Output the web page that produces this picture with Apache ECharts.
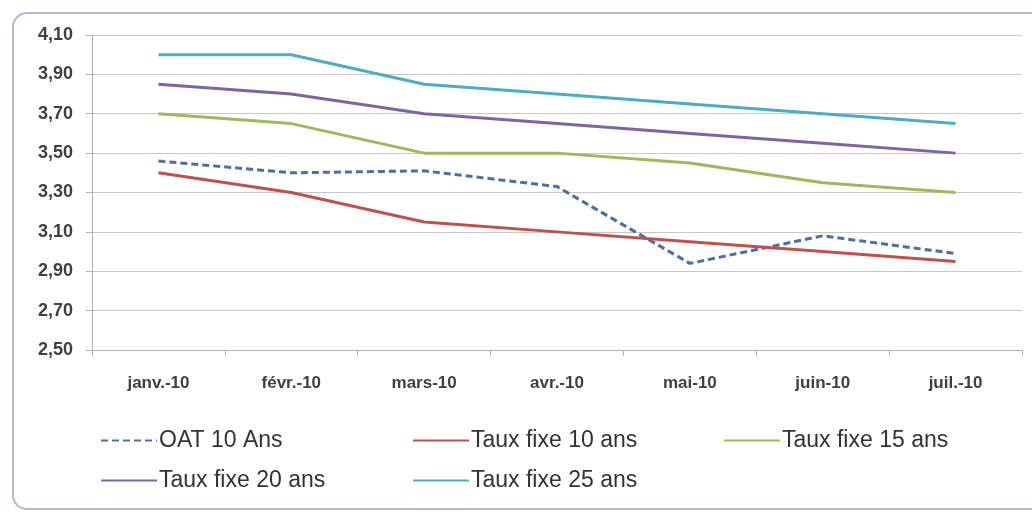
<!DOCTYPE html>
<html><head><meta charset="utf-8">
<script src="https://cdn.jsdelivr.net/npm/echarts@6/dist/echarts.min.js"></script>
<style>html,body{margin:0;padding:0;background:#fff}#c{width:1032px;height:512px}</style>
</head><body><div id="c"></div>
<script>
const categories = ['janv.-10','févr.-10','mars-10','avr.-10','mai-10','juin-10','juil.-10'];
const seriesNames = ['OAT 10 Ans','Taux fixe 10 ans','Taux fixe 15 ans','Taux fixe 20 ans','Taux fixe 25 ans'];
const oat10 = [3.46, 3.40, 3.41, 3.33, 2.94, 3.08, 2.99];
const taux10 = [3.40, 3.30, 3.15, 3.10, 3.05, 3.00, 2.95];
const taux15 = [3.70, 3.65, 3.50, 3.50, 3.45, 3.35, 3.30];
const taux20 = [3.85, 3.80, 3.70, 3.65, 3.60, 3.55, 3.50];
const taux25 = [4.00, 4.00, 3.85, 3.80, 3.75, 3.70, 3.65];
const yMin = 2.5, yMax = 4.1, yStep = 0.2;

const colors = ['#4A6FA8','#C0504D','#9BBB59','#8064A2','#4BACC6'];
const values = [oat10, taux10, taux15, taux20, taux25];
const legendPos = [[100,429],[412,429],[723,429],[100,469],[412,469]];
const font = '"Liberation Sans", Arial, sans-serif';

const chart = echarts.init(document.getElementById('c'));
chart.setOption({
  animation: false,
  backgroundColor: '#fff',
  graphic: [{
    type: 'rect', left: 12, top: 12, z: -1,
    shape: { width: 1030, height: 496, r: 14 },
    style: { fill: '#fff', stroke: '#A7BCD8', lineWidth: 2 }
  }],
  grid: { left: 92, right: 10, top: 35, bottom: 162 },
  legend: seriesNames.map((n, i) => ({
    data: [n], left: legendPos[i][0], top: legendPos[i][1], padding: 0,
    itemWidth: 56, itemHeight: 14, itemGap: 2,
    textStyle: { fontFamily: font, fontSize: 23, color: '#333', padding: [0,0,0,-3] },
    itemStyle: { opacity: 0 }
  })),
  xAxis: {
    type: 'category', data: categories, boundaryGap: true,
    axisLine: { lineStyle: { color: '#B0B0B0', width: 1 } },
    axisTick: { show: true, length: 6, lineStyle: { color: '#B0B0B0' } },
    axisLabel: { margin: 25, fontFamily: font, fontWeight: 'bold', fontSize: 17, color: '#404040' }
  },
  yAxis: {
    type: 'value', min: yMin, max: yMax, interval: yStep,
    axisLine: { show: true, lineStyle: { color: '#B0B0B0' } },
    axisTick: { show: true, length: 6, lineStyle: { color: '#B0B0B0' } },
    splitLine: { lineStyle: { color: '#C8C8C8', width: 1 } },
    axisLabel: { margin: 19, fontFamily: font, fontWeight: 'bold', fontSize: 18, color: '#404040',
      formatter: v => v.toFixed(2).replace('.', ',') }
  },
  series: seriesNames.map((n, i) => ({
    name: n, type: 'line', data: values[i], symbol: 'none',
    lineStyle: { color: colors[i], width: 3, type: i === 0 ? [7, 4] : 'solid' },
    itemStyle: { color: colors[i] }
  }))
});
</script></body></html>
